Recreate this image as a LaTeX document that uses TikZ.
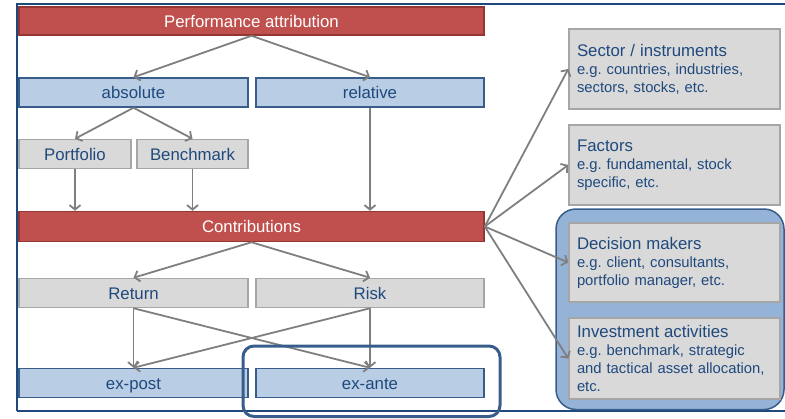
\documentclass[tikz,border=0pt]{standalone}
\usepackage{fontspec}
\setmainfont{Liberation Sans}
\usetikzlibrary{arrows.meta}
\frenchspacing
\definecolor{redf}{HTML}{C0504D}
\definecolor{redd}{HTML}{943634}
\definecolor{bluef}{HTML}{B9CDE5}
\definecolor{blued}{HTML}{385D8A}
\definecolor{grayf}{HTML}{D9D9D9}
\definecolor{grayd}{HTML}{A6A6A6}
\definecolor{txtblue}{HTML}{1F497D}
\definecolor{contf}{HTML}{95B3D7}
\definecolor{framec}{HTML}{1F497D}
\definecolor{arrc}{HTML}{7F7F7F}
\newcommand{\mainf}{\fontsize{16.8}{19}\selectfont}
\newcommand{\titlef}{\fontsize{16.8}{18}\selectfont}
\newcommand{\subf}{\fontsize{14.8}{18}\selectfont}
\tikzset{
  box/.style={rectangle, line width=1.5pt, inner sep=0pt, font=\mainf, text height=12pt, text depth=0pt},
  redbox/.style={box, fill=redf, draw=redd, text=white},
  bluebox/.style={box, fill=bluef, draw=blued, text=txtblue},
  graybox/.style={box, fill=grayf, draw=grayd, text=txtblue},
  rbox/.style={rectangle, line width=1.5pt, fill=grayf, draw=grayd, text=txtblue, font=\subf\frenchspacing,
    minimum width=211pt, text width=195pt, inner xsep=8pt, inner ysep=0pt, align=left},
  arr/.style={draw=arrc, line width=1.8pt, -{Straight Barb[length=4.5pt,width=11pt]}}
}
\begin{document}
\begin{tikzpicture}[x=1pt,y=-1pt]
\useasboundingbox (0,0) rectangle (785,418);
% frame
\draw[framec, line width=1.5pt] (17,411) -- (785,411);
\draw[framec, line width=2pt] (17,411) -- (17,4) -- (785,4);
% container
\draw[fill=contf, draw=blued, line width=1.5pt, rounded corners=20pt] (556,209) rectangle (784,409.5);
% left boxes
\node[redbox, minimum width=465pt, minimum height=28pt] (perf) at (251.5,21) {Performance attribution};
\node[bluebox, minimum width=229pt, minimum height=29pt] (abs) at (133.5,92.5) {absolute};
\node[bluebox, minimum width=228pt, minimum height=29pt] (rel) at (370,92.5) {relative};
\node[graybox, minimum width=112pt, minimum height=29pt] (port) at (75,154) {Portfolio};
\node[graybox, minimum width=111pt, minimum height=29pt] (bench) at (192.5,154) {Benchmark};
\node[redbox, minimum width=465pt, minimum height=30pt] (contr) at (251.5,226.5) {Contributions};
\node[graybox, minimum width=229pt, minimum height=29pt] (ret) at (133.5,293) {Return};
\node[graybox, minimum width=228pt, minimum height=29pt] (risk) at (370,293) {Risk};
\node[bluebox, minimum width=229pt, minimum height=29pt] (expost) at (133.5,383) {ex-post};
\node[bluebox, minimum width=228pt, minimum height=29pt] (exante) at (370,383) {ex-ante};
% right boxes
\node[rbox, minimum height=80pt] (sector) at (674.5,69)
  {\titlef Sector / instruments\\\subf e.g. countries, industries,\\sectors, stocks, etc.};
\node[rbox, minimum height=80pt] (factors) at (674.5,165)
  {\titlef Factors\\\subf e.g. fundamental, stock\\specific, etc.};
\node[rbox, minimum height=79pt] (dec) at (674.5,262.5)
  {\titlef Decision makers\\\subf e.g. client, consultants,\\portfolio manager, etc.};
\node[rbox, minimum height=81pt] (inv) at (674.5,358.5)
  {\titlef Investment activities\\\subf e.g. benchmark, strategic\\and tactical asset allocation,\\etc.};
% arrows
\draw[arr] (perf.south) -- (abs.north);
\draw[arr] (perf.south) -- (rel.north);
\draw[arr] (abs.south) -- (port.north);
\draw[arr] (abs.south) -- (bench.north);
\draw[arr] (port.south) -- (port.south |- contr.north);
\draw[arr] (bench.south) -- (bench.south |- contr.north);
\draw[arr] (rel.south) -- (rel.south |- contr.north);
\draw[arr] (contr.south) -- (ret.north);
\draw[arr] (contr.south) -- (risk.north);
\draw[arr] (ret.south) -- (expost.north);
\draw[arr] (ret.south) -- (exante.north);
\draw[arr] (risk.south) -- (expost.north);
\draw[arr] (risk.south) -- (exante.north);
\draw[arr] (contr.east) -- (sector.west);
\draw[arr] (contr.east) -- (factors.west);
\draw[arr] (contr.east) -- (dec.west);
\draw[arr] (contr.east) -- (inv.west);
% highlight
\draw[draw=blued, line width=3pt, rounded corners=11pt] (243,346) rectangle (500,416.5);
\end{tikzpicture}
\end{document}
